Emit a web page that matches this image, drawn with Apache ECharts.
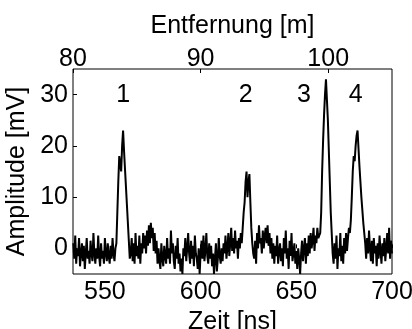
<!DOCTYPE html>
<html>
<head>
<meta charset="utf-8">
<script src="https://cdn.jsdelivr.net/npm/echarts@6/dist/echarts.min.js"></script>
<style>html,body{margin:0;padding:0;background:#fff;}#c{width:412px;height:329px;}</style>
</head>
<body>
<div id="c"></div>
<script>
// sampling of the trace
const t0 = 533.5;
const dt = 0.5;
// amplitude segments [mV]
const noiseA = [1,-2,2.5,-3,0,-1.5,2,-3.5,-1,1,-2.5,0.5,-4,-1,2,-2,-0.5,-3,1.5,-1,-2.5,3,-1,-3,0,-2,2.5,-1.5,-3.5,1,-2,-0.5,-3,2,-1,-2.5,1,-1.5,-3,0.5,-2,2,-1,-2.5,0];
const peak1 = [1,7,13,18,16.5,15,20,23,19,15.5,12,8.5,5,1.5,-2];
const noiseB = [-1,2,-2.5,1,-3,3,-1.5,0.5,-2,2.5,-3,1,-1,3,
  0,2.5,-1,3.5,0.5,4.5,1,5,2,4,-0.5,3,-1,1.5,
  -3,0,-2.5,-4,1,-2,-3.5,0.5,-1.5,-3,2,-2,0,-3,
  3.5,-1,1,-2.5,-4,0.5,-2,2,-3,-1,-4.5,-2,-5,0,
  -1.5,2,-2.5,0,3,-1,-3,1.5,-2,0.5,-3.5,2.5,-1,-2,
  -4,0,-5,-1,1.5,-2,2.5,-2.5,-0.5,3,-1.5,-3,1,-2,
  0.5,-3.5,-1,-5,-2,1,-4.5,-2,2,-1.5,-3,0,-2.5,1,
  -1,2.5,-2,0,3,-1.5,1,4,-0.5,2,-1,3.5,0,1.5,
  -2,2,0,3];
const peak2 = [1,4,7,9,13,15,10,13,14.5,9,4,1,-1];
const noiseC = [-2,1.5,-3,3,0,4.5,1,2,-1,3.5,0,2.5,4,1,
  4.5,0.5,3,-1,2,-2,1,-3,0.5,-1.5,2.5,-3,-0.5,1,
  -2.5,0,-3.5,2,-1,3.5,-2,0,-4,1.5,-1.5,3,-2.5,-1,
  1,-3,-0.5,-4,0,-2,-5,-1,1.5,-2.5,0,2,-3,1,
  -1.5,2.5,-1,3,0,1.5,4,-0.5,2.5,1,4,2];
const peak3 = [2,3,7,15,21,26,30,33,29,25,19,13,7,3,-1];
const noiseD = [-3,1,-2,2.5,-4,0,-1.5,3,-2.5,0.5,-3,2,-1,3,-0.5,2,4];
const peak4 = [3,5.5,10,15,18,17,20,22,23,19.5,16,13,10,7.5,5,3,1];
const noiseE = [-2,2,-1,3.5,0,-2.5,1.5,-3,2,-1,0.5,-3.5,1,-2,2.5,-0.5,-3,1,-1.5,2,-2.5,0,3,-1,4,-2,1.5,-1];

const amplitude = [].concat(noiseA, peak1, noiseB, peak2, noiseC, peak3, noiseD, peak4, noiseE);

// tick labels
const timeTicks = [550, 600, 650, 700];
const distTicks = [80, 90, 100];
const ampTicks = [0, 10, 20, 30];
// peak annotations
const peakNames = ['1', '2', '3', '4'];
const peakLabelTime = [559.5, 623.5, 654, 681];
const peakLabelAmp = [30, 30, 30, 30];

const series = amplitude.map((v, i) => [t0 + i * dt, v]);
const FONT = 'Liberation Sans';
const FS = 25;

const chart = echarts.init(document.getElementById('c'), null, {renderer: 'canvas'});
chart.setOption({
  animation: false,
  backgroundColor: '#fff',
  grid: {left: 73, right: 20, top: 69, bottom: 55, containLabel: false, outerBoundsMode: 'none',
    show: true, borderColor: '#000', borderWidth: 1, backgroundColor: 'transparent'},
  xAxis: [{
    type: 'value', position: 'bottom', min: 533.333, max: 700,
    name: 'Zeit [ns]', nameLocation: 'middle', nameGap: 28,
    nameTextStyle: {fontFamily: FONT, fontSize: FS, color: '#000'},
    axisLine: {show: false},
    splitLine: {show: false},
    axisTick: {inside: true, length: 4, customValues: timeTicks, lineStyle: {color: '#000'}},
    axisLabel: {customValues: timeTicks, fontFamily: FONT, fontSize: FS, color: '#000', margin: 6}
  }, {
    type: 'value', position: 'top', min: 80, max: 105,
    name: 'Entfernung [m]', nameLocation: 'middle', nameGap: 30,
    nameTextStyle: {fontFamily: FONT, fontSize: FS, color: '#000'},
    axisLine: {show: false},
    splitLine: {show: false},
    axisTick: {inside: true, length: 4, customValues: distTicks, lineStyle: {color: '#000'}},
    axisLabel: {customValues: distTicks, fontFamily: FONT, fontSize: FS, color: '#000', margin: -3}
  }],
  yAxis: [{
    type: 'value', min: -5, max: 35,
    name: 'Amplitude [mV]', nameLocation: 'middle', nameGap: 31, nameRotate: 90,
    nameTextStyle: {fontFamily: FONT, fontSize: FS, color: '#000'},
    axisLine: {show: false},
    splitLine: {show: false},
    axisTick: {inside: true, length: 4, customValues: ampTicks, lineStyle: {color: '#000'}},
    axisLabel: {customValues: ampTicks, fontFamily: FONT, fontSize: FS, color: '#000', margin: 5}
  }],
  series: [{
    type: 'line', xAxisIndex: 0, yAxisIndex: 0, data: series,
    showSymbol: false, symbol: 'none', silent: true,
    lineStyle: {color: '#000', width: 2}
  }, {
    type: 'scatter', xAxisIndex: 0, yAxisIndex: 0, symbolSize: 0, silent: true,
    itemStyle: {opacity: 1, color: '#000'},
    data: peakNames.map((n, i) => ({value: [peakLabelTime[i], peakLabelAmp[i]], name: n})),
    label: {show: true, position: 'inside', formatter: p => p.name, fontFamily: FONT, fontSize: FS, color: '#000', opacity: 1}
  }]
});
</script>
</body>
</html>
